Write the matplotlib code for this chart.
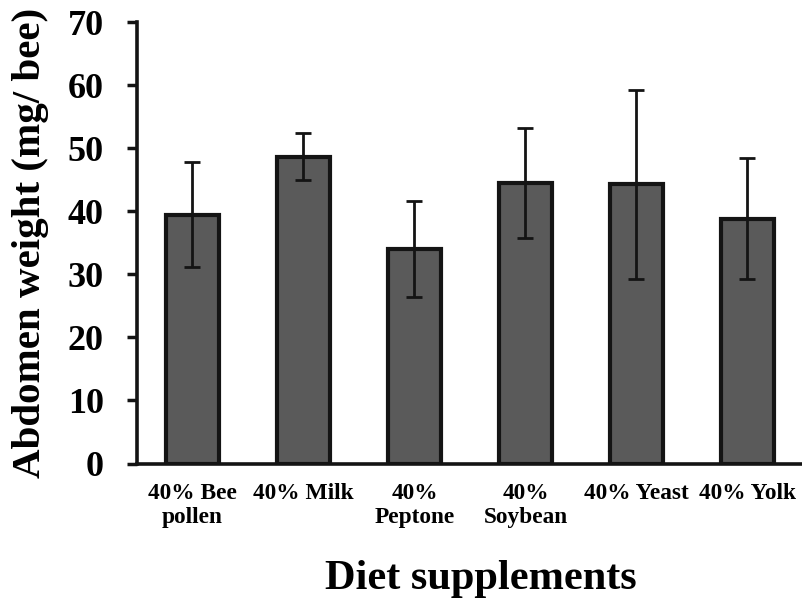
import matplotlib
matplotlib.use("Agg")
import matplotlib.pyplot as plt

categories = ["40% Bee\npollen", "40% Milk", "40%\nPeptone", "40%\nSoybean", "40% Yeast", "40% Yolk"]
means = [39.5, 48.7, 34.0, 44.5, 44.3, 38.8]
errors = [8.4, 3.7, 7.6, 8.7, 15.0, 9.6]
yticks = [0, 10, 20, 30, 40, 50, 60, 70]

plt.rcParams['font.family'] = ['Liberation Serif', 'DejaVu Serif']
plt.rcParams['font.weight'] = 'bold'

fig = plt.figure(figsize=(8.03, 5.98), dpi=100)
ax = fig.add_axes([0.1706, 0.2249, 0.8294, 0.7378])

x = list(range(len(categories)))
ax.bar(x, means, width=0.48, color='#5a5a5a', edgecolor='#141414', linewidth=3.0, zorder=2)
ax.errorbar(x, means, yerr=errors, fmt='none', ecolor='#141414', elinewidth=2.0,
            capsize=5.5, capthick=2.0, zorder=3)

ax.set_xlim(-0.5, len(categories) - 0.5)
ax.set_ylim(0, 70)
ax.set_yticks(yticks)
ax.set_yticklabels([str(t) for t in yticks], fontsize=26, fontweight='bold')
ax.set_xticks(x)
ax.set_xticklabels(categories, fontsize=16.8, fontweight='bold', linespacing=1.2)
ax.tick_params(axis='x', length=0, pad=14)
ax.tick_params(axis='y', length=7, width=2.5, pad=17, color='#141414')

for s in ['top', 'right']:
    ax.spines[s].set_visible(False)
for s in ['left', 'bottom']:
    ax.spines[s].set_linewidth(2.6)
    ax.spines[s].set_color('#141414')

ax.set_ylabel("Abdomen weight (mg/ bee)", fontsize=29.5, fontweight='bold')
ax.yaxis.set_label_coords(-0.132, 0.5)
ax.set_xlabel("Diet supplements", fontsize=30.5, fontweight='bold')
ax.xaxis.set_label_coords(0.516, -0.218)

fig.savefig("out.png", dpi=100)
